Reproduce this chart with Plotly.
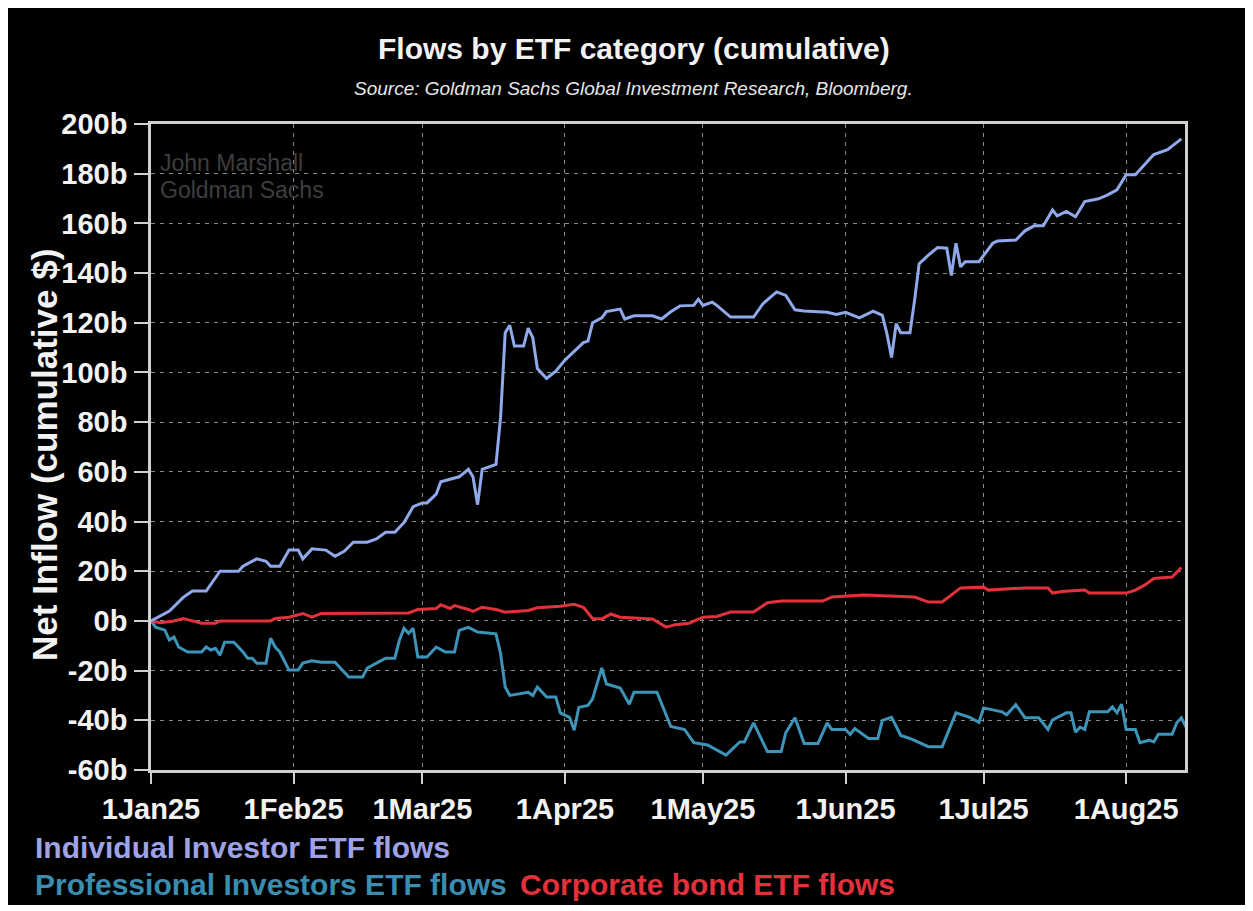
import plotly.graph_objects as go

# ---------------- data (billions USD, cumulative) ----------------
indiv_dates = ["2025-01-01","2025-01-05","2025-01-08","2025-01-10","2025-01-13","2025-01-15","2025-01-16",
    "2025-01-20","2025-01-21","2025-01-24","2025-01-26","2025-01-27","2025-01-29","2025-01-31","2025-02-02",
    "2025-02-03","2025-02-05","2025-02-08","2025-02-10","2025-02-12","2025-02-14","2025-02-17","2025-02-19",
    "2025-02-21","2025-02-23","2025-02-25","2025-02-27","2025-03-01","2025-03-02","2025-03-04","2025-03-05",
    "2025-03-07","2025-03-09","2025-03-11","2025-03-12","2025-03-13","2025-03-14","2025-03-17","2025-03-18",
    "2025-03-19","2025-03-20","2025-03-21","2025-03-23","2025-03-24","2025-03-25","2025-03-26","2025-03-28",
    "2025-03-30","2025-04-01","2025-04-03","2025-04-05","2025-04-06","2025-04-07","2025-04-09","2025-04-10",
    "2025-04-13","2025-04-14","2025-04-16","2025-04-20","2025-04-22","2025-04-24","2025-04-26","2025-04-29",
    "2025-04-30","2025-05-01","2025-05-03","2025-05-04","2025-05-07","2025-05-12","2025-05-14","2025-05-17",
    "2025-05-19","2025-05-21","2025-05-23","2025-05-28","2025-05-30","2025-06-01","2025-06-04","2025-06-07",
    "2025-06-09","2025-06-10","2025-06-11","2025-06-12","2025-06-13","2025-06-15","2025-06-16","2025-06-17",
    "2025-06-19","2025-06-21","2025-06-23","2025-06-24","2025-06-25","2025-06-26","2025-06-27","2025-06-30",
    "2025-07-03","2025-07-04","2025-07-08","2025-07-10","2025-07-12","2025-07-14","2025-07-16","2025-07-17",
    "2025-07-19","2025-07-21","2025-07-23","2025-07-26","2025-07-28","2025-07-30","2025-08-01","2025-08-03",
    "2025-08-07","2025-08-10","2025-08-13"]
indiv_vals = [0,4,9.5,12,12,17.7,20,
    20,22,25,24,22,22,28.5,28.5,
    25,29,28.5,26,28,31.7,31.7,33,
    35.7,35.7,39.6,46,47.5,47.5,51,56,
    57,58,61,58,46.8,61,63,82,
    116,119,110.6,110.6,117.8,114,101.6,97.6,
    100.5,105,108.5,112,112.6,120,122,124.5,
    125.5,121.5,122.8,122.8,121.5,124.4,126.8,127,
    129.5,127,128.3,127,122.3,122.3,127.6,132.4,
    131,125.2,124.7,124.2,123.3,124.2,122,124.7,
    123,115.5,106,119.6,116,116,129,143.8,
    147.2,150.3,150,139,152,142.5,144.6,144.6,
    152,152.9,153.3,157,159,159,165.4,163,
    164.8,162.7,168.8,169.9,171.5,173.5,179.6,179.6,
    187.7,189.7,194]

prof_dates = ["2025-01-01","2025-01-02","2025-01-04","2025-01-05","2025-01-06","2025-01-07","2025-01-09",
    "2025-01-12","2025-01-13","2025-01-14","2025-01-15","2025-01-16","2025-01-17","2025-01-19","2025-01-21",
    "2025-01-22","2025-01-23","2025-01-24","2025-01-26","2025-01-27","2025-01-28","2025-01-29","2025-01-31",
    "2025-02-02","2025-02-03","2025-02-05","2025-02-07","2025-02-10","2025-02-13","2025-02-16","2025-02-17",
    "2025-02-21","2025-02-23","2025-02-24","2025-02-25","2025-02-26","2025-02-27","2025-02-28","2025-03-02",
    "2025-03-04","2025-03-06","2025-03-08","2025-03-09","2025-03-11","2025-03-13","2025-03-17","2025-03-18",
    "2025-03-19","2025-03-20","2025-03-24","2025-03-25","2025-03-26","2025-03-28","2025-03-30","2025-03-31",
    "2025-04-02","2025-04-03","2025-04-04","2025-04-06","2025-04-07","2025-04-09","2025-04-10","2025-04-13",
    "2025-04-15","2025-04-16","2025-04-21","2025-04-24","2025-04-27","2025-04-29","2025-05-02","2025-05-06",
    "2025-05-09","2025-05-10","2025-05-12","2025-05-15","2025-05-18","2025-05-19","2025-05-21","2025-05-23",
    "2025-05-26","2025-05-28","2025-05-29","2025-06-01","2025-06-02","2025-06-03","2025-06-06","2025-06-08",
    "2025-06-09","2025-06-11","2025-06-13","2025-06-15","2025-06-19","2025-06-22","2025-06-25","2025-06-28",
    "2025-06-30","2025-07-01","2025-07-05","2025-07-06","2025-07-08","2025-07-10","2025-07-13","2025-07-15",
    "2025-07-16","2025-07-19","2025-07-20","2025-07-21","2025-07-22","2025-07-23","2025-07-24","2025-07-28",
    "2025-07-29","2025-07-30","2025-07-31","2025-08-01","2025-08-03","2025-08-04","2025-08-06","2025-08-07",
    "2025-08-08","2025-08-11","2025-08-12","2025-08-13","2025-08-14"]
prof_vals = [0,-2.5,-3.7,-7.7,-6.5,-10.5,-12.5,
    -12.5,-10.5,-11.7,-11,-13.8,-8.6,-8.6,-12.5,
    -15,-15,-17,-17,-7,-10.5,-12.5,-19.8,
    -19.8,-17,-16,-16.6,-16.6,-22.6,-22.6,-19,
    -15,-15,-7.8,-3,-5,-3,-14.5,-14.5,
    -10.5,-12.5,-12.5,-3.8,-2.6,-4.5,-5.2,-13.2,
    -26.6,-30,-28.7,-30,-26.6,-30.6,-30.6,-37,
    -38.8,-44,-34.8,-34,-31.4,-18.9,-25.4,-27,
    -33.5,-28.7,-28.7,-42.5,-43.7,-49,-49.9,-54,
    -48.7,-48.7,-41,-52.6,-52.6,-45,-39,-49.3,
    -49.3,-41,-43.7,-43.7,-45.7,-43.3,-47.3,-47.3,
    -40,-38.8,-46.1,-47.3,-50.6,-50.6,-37,-38.8,
    -40.8,-35,-36.6,-37.8,-33.7,-39,-39,-43.7,
    -39.8,-37,-37,-44.8,-42.7,-43.7,-36.6,-36.6,
    -34.6,-37,-33.5,-43.7,-43.7,-49,-48,-48.7,
    -45.6,-45.6,-41,-39,-42.7]

corp_dates = ["2025-01-01","2025-01-03","2025-01-06","2025-01-08","2025-01-10","2025-01-12","2025-01-15",
    "2025-01-16","2025-01-27","2025-01-28","2025-01-31","2025-02-03","2025-02-05","2025-02-07","2025-02-26",
    "2025-02-28","2025-03-04","2025-03-05","2025-03-07","2025-03-08","2025-03-11","2025-03-12","2025-03-14",
    "2025-03-17","2025-03-19","2025-03-24","2025-03-26","2025-03-31","2025-04-03","2025-04-05","2025-04-07",
    "2025-04-09","2025-04-11","2025-04-13","2025-04-20","2025-04-23","2025-04-25","2025-04-28","2025-05-01",
    "2025-05-04","2025-05-07","2025-05-12","2025-05-15","2025-05-18","2025-05-27","2025-05-29","2025-06-05",
    "2025-06-16","2025-06-19","2025-06-22","2025-06-26","2025-07-01","2025-07-02","2025-07-10","2025-07-15",
    "2025-07-16","2025-07-18","2025-07-23","2025-07-24","2025-08-01","2025-08-03","2025-08-05","2025-08-07",
    "2025-08-11","2025-08-13"]
corp_vals = [0,-0.7,0,1,0,-0.9,-0.9,
    0,0,1,1.5,3,1.5,3,3.2,
    4.6,5,6.5,5,6.2,4.6,3.8,5.5,
    4.6,3.5,4.2,5.3,5.9,6.7,5.5,1,
    0.8,2.8,1.5,0.8,-2.5,-1.5,-0.9,1.5,
    1.8,3.6,3.6,7.3,8,8,9.6,10.4,
    9.6,7.6,7.6,13.3,13.6,12.4,13.3,13.3,
    11.2,11.8,12.4,11.2,11.2,12.4,14.4,17.1,
    17.7,21.5]

series_names = ["Individual Investor ETF flows", "Professional Investors ETF flows", "Corporate bond ETF flows"]
series_colors = ["#8fa9ea", "#3d93b8", "#e3313c"]
legend_colors = ["#9ea3e6", "#3b8db0", "#e3313c"]

x_tick_vals = ["2025-01-01","2025-02-01","2025-03-01","2025-04-01","2025-05-01","2025-06-01","2025-07-01","2025-08-01"]
x_tick_text = ["1Jan25","1Feb25","1Mar25","1Apr25","1May25","1Jun25","1Jul25","1Aug25"]
y_tick_vals = [-60,-40,-20,0,20,40,60,80,100,120,140,160,180,200]
y_tick_text = [f"{v}b" for v in y_tick_vals]

FONT = "Liberation Sans, Arial, sans-serif"

fig = go.Figure()
for d, v, name, col in [(prof_dates, prof_vals, series_names[1], series_colors[1]),
                        (corp_dates, corp_vals, series_names[2], series_colors[2]),
                        (indiv_dates, indiv_vals, series_names[0], series_colors[0])]:
    fig.add_trace(go.Scatter(x=d, y=v, mode="lines", name=name,
                             line=dict(color=col, width=3), showlegend=False))

W, H = 1240, 897
fig.update_layout(
    width=W, height=H,
    margin=dict(l=143, r=63, t=116, b=135),
    paper_bgcolor="#000000", plot_bgcolor="#000000",
    font=dict(family=FONT, color="#f2f2f2"),
    showlegend=False,
)
fig.update_xaxes(
    type="date", range=["2025-01-01", "2025-08-13 19:00"],
    tickvals=x_tick_vals, ticktext=x_tick_text,
    tickfont=dict(size=29, family=FONT, color="#f2f2f2", weight="bold"),
    ticks="outside", ticklen=11, tickwidth=2, tickcolor="#d0d0d0",
    showline=True, linecolor="#d0d0d0", linewidth=2.5, mirror=True,
    showgrid=True, gridcolor="#8a8a8a", gridwidth=1.3, griddash="4px,5px",
    zeroline=False,
)
fig.update_yaxes(
    range=[-60, 200],
    tickvals=y_tick_vals, ticktext=y_tick_text,
    tickfont=dict(size=29, family=FONT, color="#f2f2f2", weight="bold"),
    ticks="outside", ticklen=14, tickwidth=2, tickcolor="#d0d0d0",
    showline=True, linecolor="#d0d0d0", linewidth=2.5, mirror=True,
    showgrid=True, gridcolor="#8a8a8a", gridwidth=1.3, griddash="4px,5px",
    zeroline=False, ticklabelstandoff=1,
)

ann = []
ann.append(dict(text="<b>Flows by ETF category (cumulative)</b>", x=0.4667, y=1.1176, xref="paper", yref="paper",
                xanchor="center", yanchor="middle", showarrow=False,
                font=dict(size=30, family=FONT, color="#f2f2f2")))
ann.append(dict(text="<i>Source: Goldman Sachs Global Investment Research, Bloomberg.</i>", x=0.4667, y=1.0557,
                xref="paper", yref="paper", xanchor="center", yanchor="middle", showarrow=False,
                font=dict(size=19, family=FONT, color="#e6e6e6")))
ann.append(dict(text="<b>Net Inflow (cumulative $)</b>", x=-0.1035, y=0.4876, xref="paper", yref="paper",
                xanchor="center", yanchor="middle", textangle=-90, showarrow=False,
                font=dict(size=35, family=FONT, color="#f2f2f2")))
ann.append(dict(text="John Marshall", x=0.0068, y=0.9396, xref="paper", yref="paper",
                xanchor="left", yanchor="middle", showarrow=False,
                font=dict(size=23, family=FONT, color="#3e3e3e")))
ann.append(dict(text="Goldman Sachs", x=0.0068, y=0.8978, xref="paper", yref="paper",
                xanchor="left", yanchor="middle", showarrow=False,
                font=dict(size=23, family=FONT, color="#3e3e3e")))
legend_pos = [(-0.1141, -0.1192), (-0.1141, -0.178), (0.3549, -0.178)]
for name, col, (lx, ly) in zip(series_names, legend_colors, legend_pos):
    ann.append(dict(text=f"<b>{name}</b>", x=lx, y=ly, xref="paper", yref="paper",
                    xanchor="left", yanchor="middle", showarrow=False,
                    font=dict(size=30, family=FONT, color=col)))
fig.update_layout(annotations=ann)

fig.write_html("out.html")
